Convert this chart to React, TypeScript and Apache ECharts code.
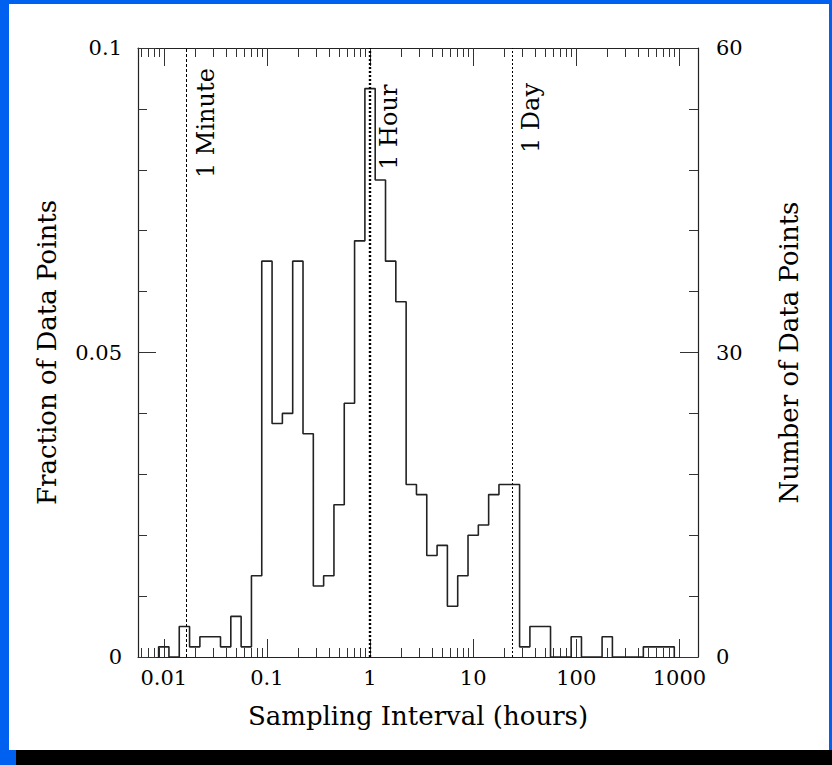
import React, { useEffect, useRef } from "react";
import * as echarts from "echarts";

// ---- data ----
const totalPoints = 600; // fraction = count / totalPoints
const binFirstCenterLog = -2.0; // log10(hours) of the first bin centre
const binWidthDex = 0.1; // bin width in decades
const binCounts = [
  1, 0, 3, 1, 2, 2, 1, 4, 1, 8,
  39, 23, 24, 39, 22, 7, 8, 15, 25, 41,
  56, 47, 39, 35, 17, 16, 10, 11, 5, 8,
  12, 13, 16, 17, 17, 1, 3, 3, 0, 0,
  2, 0, 0, 2, 0, 0, 0, 1, 1, 1,
];
const majorTickHours = [0.01, 0.1, 1, 10, 100, 1000];
const xRangeLog = [-2.25, 3.18];
const fractionTicks = [0, 0.05, 0.1];
const refLineHours = [1 / 60, 1, 24];
const refLineLabels = ["1 Minute", "1 Hour", "1 Day"];
const refLabelCountY = [52.6, 52.2, 53.1];

// ---- style ----
const FONT = '"DejaVu Serif", "Liberation Serif", serif';
const refLineWidths = [1, 2.4, 1];
const refLineDash = [[3, 2], [2, 2], [2, 2]];

const lg = Math.log10;

export default function App() {
  const ref = useRef<HTMLDivElement>(null);
  useEffect(() => {
    const chart = echarts.init(ref.current!, null, { renderer: "svg" });
    const [xMin, xMax] = xRangeLog;
    const majors = majorTickHours.map(lg);
    const minors: number[] = [];
    for (let d = -3; d <= 3; d++) {
      for (let m = 2; m <= 9; m++) {
        const v = d + lg(m);
        if (v > xMin && v < xMax) minors.push(v);
      }
    }
    const outline: number[][] = [];
    binCounts.forEach((c, i) => {
      const lo = binFirstCenterLog + (i - 0.5) * binWidthDex;
      const hi = lo + binWidthDex;
      if (i === 0) outline.push([lo, 0]);
      outline.push([lo, c], [hi, c]);
      if (i === binCounts.length - 1) outline.push([hi, 0]);
    });
    const fMax = fractionTicks[fractionTicks.length - 1];
    const cMax = Math.round(fMax * totalPoints);

    const axisLine = { show: true, onZero: false, lineStyle: { color: "#222", width: 1.2 } };
    const noLine = { show: false, onZero: false };
    const tickStyle = { color: "#333", width: 1 };
    const labelStyle = { color: "#000", fontFamily: FONT, fontSize: 21 };
    const fmtHours = (v: number) => String(parseFloat(Math.pow(10, v).toPrecision(6)));

    const xBase = (position: string, ticks: number[], len: number, line: boolean, label: boolean) => ({
      type: "value",
      gridIndex: 0,
      position,
      min: xMin,
      max: xMax,
      splitLine: { show: false },
      axisLine: line ? axisLine : noLine,
      axisTick: { show: true, customValues: ticks, inside: true, length: len, lineStyle: tickStyle },
      axisLabel: label
        ? { show: true, customValues: majors, formatter: fmtHours, margin: 10, ...labelStyle }
        : { show: false },
    });

    const option: any = {
      animation: false,
      backgroundColor: "transparent",
      graphic: [
        { type: "rect", z: -100, shape: { x: 0, y: 0, width: 832, height: 765 }, style: { fill: "#0060f0" } },
        { type: "rect", z: -99, shape: { x: 9, y: 4, width: 820, height: 746 }, style: { fill: "#ffffff" } },
        { type: "rect", z: -99, shape: { x: 16, y: 750, width: 816, height: 15 }, style: { fill: "#000000" } },
      ],
      grid: { left: 138, right: 134, top: 48, bottom: 108, containLabel: false },
      xAxis: [
        {
          ...xBase("bottom", majors, 18, true, true),
          name: "Sampling Interval (hours)",
          nameLocation: "middle",
          nameGap: 46,
          nameTextStyle: { color: "#000", fontFamily: FONT, fontSize: 26 },
        },
        xBase("bottom", minors, 9, false, false),
        xBase("top", majors, 18, true, false),
        xBase("top", minors, 9, false, false),
      ],
      yAxis: [
        {
          type: "value",
          position: "left",
          min: 0,
          max: fMax,
          interval: 0.05,
          name: "Fraction of Data Points",
          nameLocation: "middle",
          nameRotate: 90,
          nameGap: 78,
          nameTextStyle: { color: "#000", fontFamily: FONT, fontSize: 26 },
          splitLine: { show: false },
          axisLine,
          axisTick: { show: true, inside: true, length: 18, lineStyle: tickStyle },
          minorTick: { show: true, splitNumber: 5, length: 9, lineStyle: tickStyle },
          axisLabel: { margin: 16, ...labelStyle },
        },
        {
          type: "value",
          position: "right",
          min: 0,
          max: cMax,
          interval: cMax / 2,
          name: "Number of Data Points",
          nameLocation: "middle",
          nameRotate: 90,
          nameGap: 78,
          nameTextStyle: { color: "#000", fontFamily: FONT, fontSize: 26 },
          splitLine: { show: false },
          axisLine,
          axisTick: { show: true, inside: true, length: 18, lineStyle: tickStyle },
          minorTick: { show: true, splitNumber: 5, length: 9, lineStyle: tickStyle },
          axisLabel: { margin: 18, ...labelStyle },
        },
      ],
      series: [
        {
          type: "line",
          xAxisIndex: 0,
          yAxisIndex: 1,
          data: outline,
          showSymbol: false,
          symbol: "none",
          silent: true,
          lineStyle: { color: "#222", width: 1.6 },
          markLine: {
            silent: true,
            symbol: ["none", "none"],
            label: { show: false },
            data: refLineHours.map((h, i) => ({
              xAxis: lg(h),
              lineStyle: { color: "#000", width: refLineWidths[i], type: refLineDash[i] },
            })),
          },
        },
        {
          type: "custom",
          xAxisIndex: 0,
          yAxisIndex: 1,
          silent: true,
          data: refLineHours.map((h, i) => [lg(h), refLabelCountY[i], i]),
          renderItem: (_p: any, api: any) => {
            const pt = api.coord([api.value(0), api.value(1)]);
            return {
              type: "text",
              x: pt[0] + 19,
              y: pt[1],
              rotation: Math.PI / 2,
              style: {
                text: refLineLabels[api.value(2)],
                fontFamily: FONT,
                fontSize: 24,
                fill: "#000",
                align: "center",
                verticalAlign: "middle",
              },
            };
          },
        },
      ],
    };
    chart.setOption(option);
    return () => chart.dispose();
  }, []);
  return (
    <div
      ref={ref}
      style={{ position: "absolute", left: 0, top: 0, width: 832, height: 765 }}
    />
  );
}
